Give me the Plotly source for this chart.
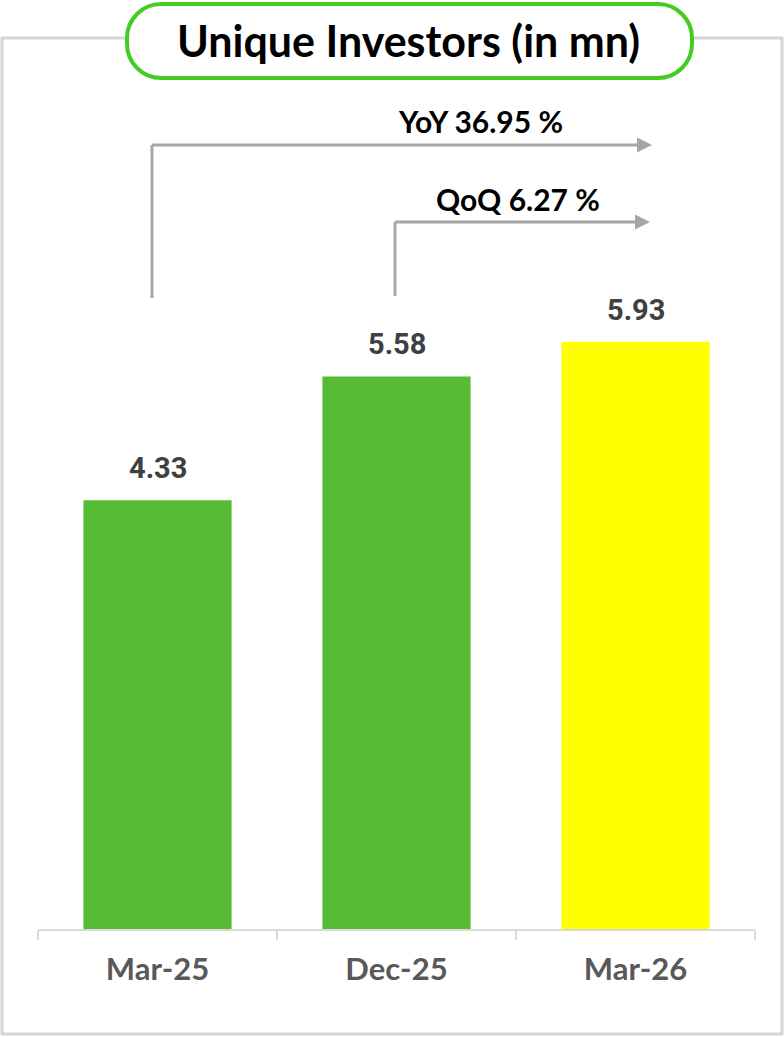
import plotly.graph_objects as go

categories = ["Mar-25", "Dec-25", "Mar-26"]
values = [4.33, 5.58, 5.93]
bar_colors = ["#57bb33", "#57bb33", "#ffff00"]
value_labels = ["4.33", "5.58", "5.93"]
title_text = "Unique Investors (in mn)"
yoy_text = "YoY 36.95 %"
qoq_text = "QoQ 6.27 %"

W, H = 784, 1038
L, R, T, B = 38, 29, 107, 109
PW, PH = W - L - R, H - T - B
YMAX = 8.30


def px(x):
    return (x - L) / PW


def py(y):
    return (H - B - y) / PH


fig = go.Figure()
fig.add_trace(go.Bar(
    x=categories, y=values, marker=dict(color=bar_colors, line=dict(width=0)),
    width=0.62, hoverinfo="skip",
))

shapes = []
# outer border
shapes.append(dict(type="rect", xref="paper", yref="paper", layer="below",
                   x0=px(2), x1=px(782), y0=py(1034), y1=py(38),
                   line=dict(color="#d6d6d6", width=3), fillcolor="rgba(0,0,0,0)"))
# rounded title box
x0, x1, y0, y1, r = 127, 692, 4, 78, 34
pts = [
    ("M", (x0 + r, y0)), ("L", (x1 - r, y0)),
    ("C", [(x1 - r * 0.45, y0), (x1, y0 + r * 0.45), (x1, y0 + r)]),
    ("L", (x1, y1 - r)),
    ("C", [(x1, y1 - r * 0.45), (x1 - r * 0.45, y1), (x1 - r, y1)]),
    ("L", (x0 + r, y1)),
    ("C", [(x0 + r * 0.45, y1), (x0, y1 - r * 0.45), (x0, y1 - r)]),
    ("L", (x0, y0 + r)),
    ("C", [(x0, y0 + r * 0.45), (x0 + r * 0.45, y0), (x0 + r, y0)]),
]
path = ""
for cmd, p in pts:
    if cmd == "C":
        path += "C" + " ".join(f"{px(a):.5f},{py(b):.5f}" for a, b in p) + " "
    else:
        path += f"{cmd}{px(p[0]):.5f},{py(p[1]):.5f} "
path += "Z"
shapes.append(dict(type="path", xref="paper", yref="paper", path=path, layer="above",
                   fillcolor="#ffffff", opacity=1, line=dict(color="#44cc22", width=4)))

arrow_col = "#a6a6a6"
# YoY connector
shapes.append(dict(type="line", xref="paper", yref="paper",
                   x0=px(152), x1=px(152), y0=py(298), y1=py(145),
                   line=dict(color=arrow_col, width=3)))
# QoQ connector
shapes.append(dict(type="line", xref="paper", yref="paper",
                   x0=px(395), x1=px(395), y0=py(296), y1=py(222),
                   line=dict(color=arrow_col, width=3)))

annotations = []
# horizontal arrows
annotations.append(dict(xref="paper", yref="paper", x=px(652), y=py(145),
                        ax=-(652 - 150.5), ay=0, text="", showarrow=True,
                        arrowhead=2, arrowsize=1, arrowwidth=3, arrowcolor=arrow_col))
annotations.append(dict(xref="paper", yref="paper", x=px(650), y=py(222),
                        ax=-(650 - 393.5), ay=0, text="", showarrow=True,
                        arrowhead=2, arrowsize=1, arrowwidth=3, arrowcolor=arrow_col))
annotations.append(dict(xref="paper", yref="paper", x=px(480), y=py(121),
                        xanchor="center", yanchor="middle",
                        text=f"<b>{yoy_text}</b>", showarrow=False,
                        font=dict(family="Lato", size=30, color="#000000")))
annotations.append(dict(xref="paper", yref="paper", x=px(518), y=py(199),
                        xanchor="center", yanchor="middle",
                        text=f"<b>{qoq_text}</b>", showarrow=False,
                        font=dict(family="Lato", size=30, color="#000000")))
annotations.append(dict(xref="paper", yref="paper", x=px(408), y=py(41),
                        xanchor="center", yanchor="middle",
                        text=f"<b>{title_text}</b>", showarrow=False,
                        font=dict(family="Lato", size=43, color="#000000")))
for c, v, lab in zip(categories, values, value_labels):
    annotations.append(dict(x=c, y=v, xref="x", yref="y", text=f"<b>{lab}</b>",
                            showarrow=False, yanchor="bottom", yshift=13,
                            font=dict(family="Roboto", size=29, color="#404040")))

fig.update_layout(
    width=W, height=H, margin=dict(l=L, r=R, t=T, b=B),
    paper_bgcolor="white", plot_bgcolor="white", showlegend=False,
    shapes=shapes, annotations=annotations,
    xaxis=dict(showline=True, linecolor="#d9d9d9", linewidth=2, ticks="outside",
               tickson="boundaries", ticklen=9, tickcolor="#d9d9d9", tickwidth=2,
               showgrid=False, tickfont=dict(family="Lato", size=31, color="#595959"),
               tickprefix="<b>", ticksuffix="</b>", ticklabelstandoff=12, fixedrange=True),
    yaxis=dict(range=[0, YMAX], visible=False, showgrid=False, fixedrange=True),
)
fig.write_html("out.html")
